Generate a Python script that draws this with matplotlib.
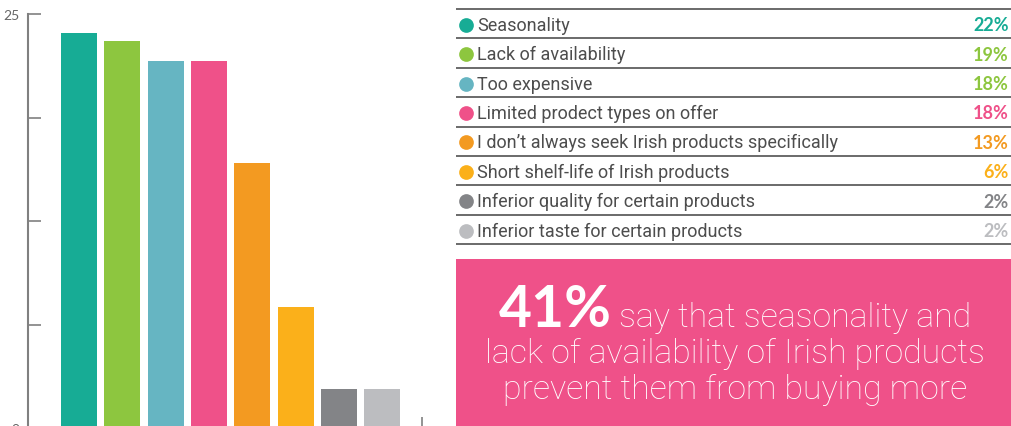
import numpy as np
import matplotlib.pyplot as plt

# data
categories = ['Seasonality', 'Lack of availability', 'Too expensive',
              'Limited prodect types on offer',
              'I don\u2019t always seek Irish products specifically',
              'Short shelf-life of Irish products',
              'Inferior quality for certain products',
              'Inferior taste for certain products']
bar_values = [23.85, 23.35, 22.15, 22.15, 16.0, 7.3, 2.35, 2.35]
pct_labels = ['22%', '19%', '18%', '18%', '13%', '6%', '2%', '2%']
bar_colors = ['#17ac95', '#8dc63f', '#66b5c2', '#ef5189',
              '#f39a21', '#fbb01a', '#838487', '#bcbdc0']
pct_colors = ['#17ac95', '#8dc63f', '#8dc63f', '#ef5189',
              '#f39a21', '#fbb01a', '#838487', '#bcbdc0']
y_ticks = [0, 6.25, 12.5, 18.75, 25]
y_ticklabels = ['0', '', '', '', '25']
headline = '41%'
callout = ['say that seasonality and',
           'lack of availability of Irish products',
           'prevent them from buying more']

plt.rcParams['font.family'] = ['Lato', 'DejaVu Sans']
light_font = ['Roboto', 'Lato', 'DejaVu Sans']

W, H = 1011, 427
fig = plt.figure(figsize=(W / 100, H / 100), dpi=100)

# ---- bar chart ----
ax = fig.add_axes([28 / W, (H - 429) / H, 394 / W, 414 / H])
x = np.arange(len(bar_values))
ax.bar(x, bar_values, width=0.83, color=bar_colors)
ax.set_xlim(-1.18, 7.92)
ax.set_ylim(0, 25)
ax.set_yticks(y_ticks)
ax.set_yticklabels(y_ticklabels)
ax.set_xticks([7.92])
ax.set_xticklabels([''])
for s in ['top', 'right']:
    ax.spines[s].set_visible(False)
ax.spines['left'].set_color('#808080')
ax.spines['left'].set_linewidth(1.5)
ax.spines['bottom'].set_color('#808080')
ax.tick_params(axis='y', direction='in', length=9.5, width=1.2,
               color='#808080', labelsize=10, labelcolor='#666666', pad=6)
ax.tick_params(axis='x', direction='in', length=8, width=1.2,
               color='#808080')

# ---- legend table + callout (pixel coordinates) ----
tx = fig.add_axes([0, 0, 1, 1])
tx.set_xlim(0, W)
tx.set_ylim(H, 0)
tx.axis('off')

top, pitch = 10, 29.4
for i in range(len(categories) + 1):
    tx.plot([456, W], [top + pitch * i] * 2, color='#6a6a6a', lw=1.4,
            solid_capstyle='butt')
for i, (lab, pct) in enumerate(zip(categories, pct_labels)):
    yc = top + pitch * (i + 0.5) + 1
    tx.scatter([466], [yc], s=112, color=bar_colors[i], lw=0)
    tx.text(477, yc, lab, fontsize=13, family=light_font,
            color='#4d4d4d', va='center', ha='left')
    tx.text(1009, yc, pct, fontsize=13, fontweight='bold',
            color=pct_colors[i], va='center', ha='right')

tx.add_patch(plt.Rectangle((456, 260), W - 456, H - 260,
                           color='#ef5189', lw=0))

inv = tx.transData.inverted()
def width_px(t):
    bb = t.get_window_extent(renderer=fig.canvas.get_renderer())
    (x0, _), (x1, _) = inv.transform([[bb.x0, bb.y0], [bb.x1, bb.y1]])
    return x1 - x0

# size the callout so the middle line is as wide as in the original
cx = 735
probe = tx.text(cx, 363, callout[1], fontsize=24, family=light_font,
                fontweight='light', color='white', ha='center',
                va='baseline')
fs = 24 * 500 / width_px(probe)
probe.set_fontsize(fs)
tx.text(cx, 399, callout[2], fontsize=fs, family=light_font,
        fontweight='light', color='white', ha='center', va='baseline')

big = tx.text(0, 327, headline, fontsize=41, fontweight='bold',
              color='white', ha='left', va='baseline')
l1 = tx.text(0, 327, callout[0], fontsize=fs, family=light_font,
             fontweight='light', color='white', ha='left', va='baseline')
gap = 8
wb, wl = width_px(big), width_px(l1)
start = cx - (wb + gap + wl) / 2
big.set_x(start)
l1.set_x(start + wb + gap)

fig.savefig('out.png', dpi=100)
